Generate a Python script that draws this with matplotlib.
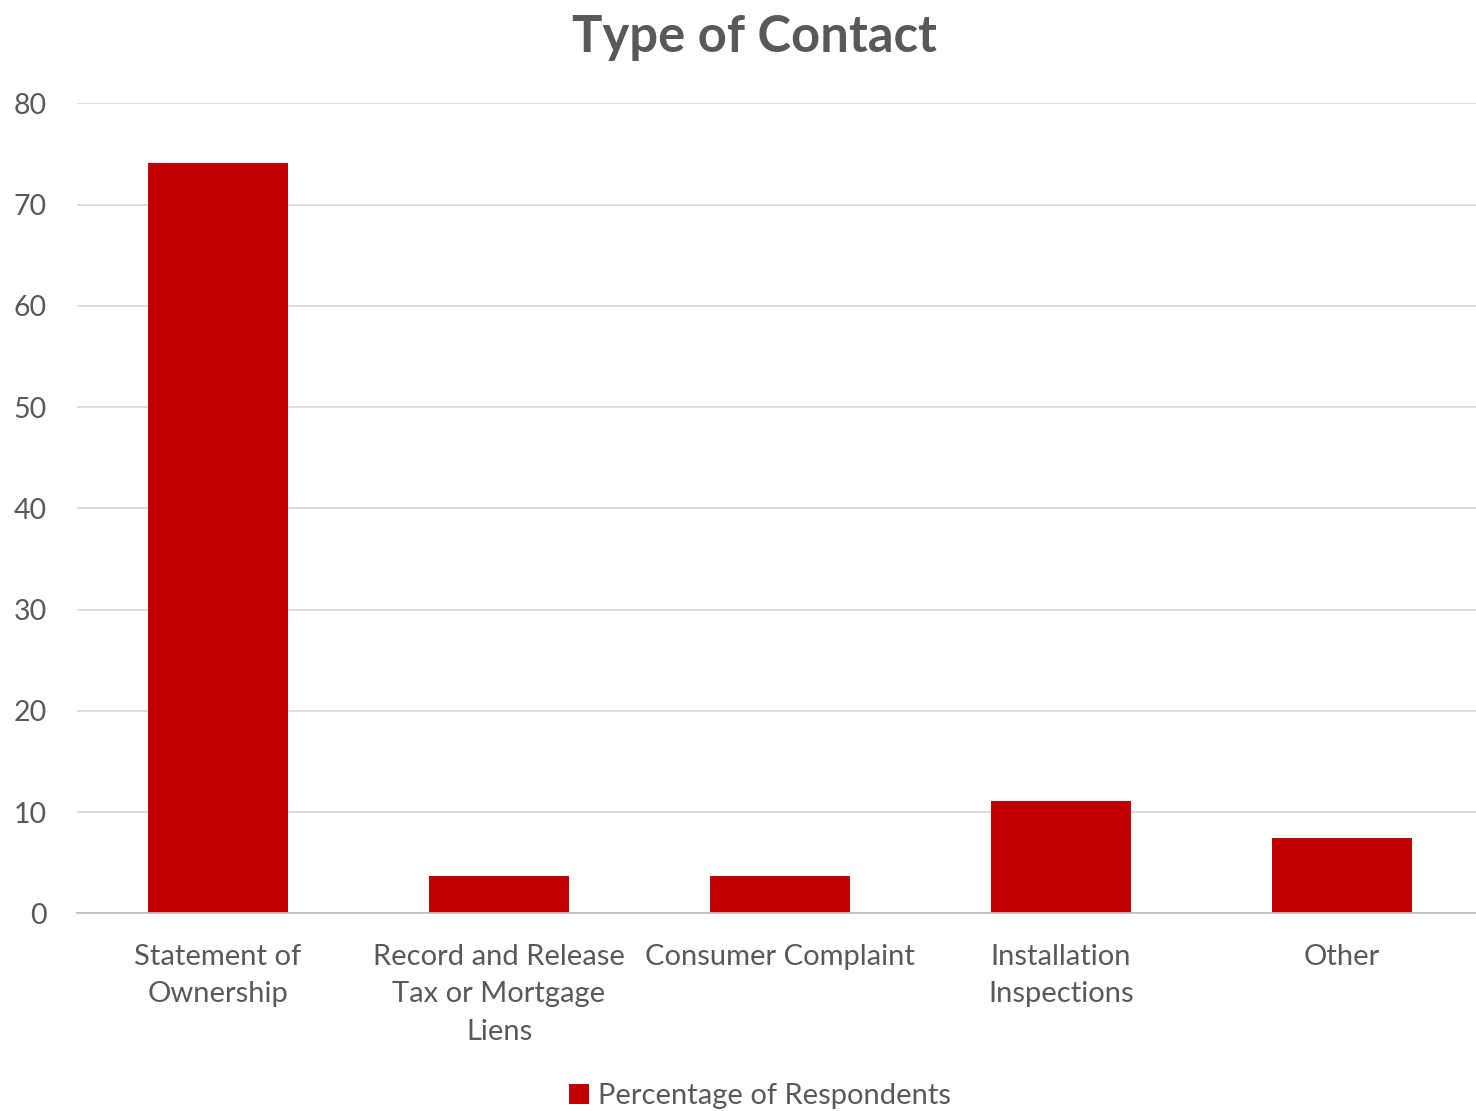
import matplotlib.pyplot as plt
import numpy as np

# share of respondents by type of contact
categories = ["Statement of\nOwnership", "Record and Release\nTax or Mortgage\nLiens",
              "Consumer Complaint", "Installation\nInspections", "Other"]
percentages = [74.1, 3.7, 3.7, 11.1, 7.4]
y_ticks = [0, 10, 20, 30, 40, 50, 60, 70, 80]

text_col = '#595959'
bar_col = '#C00000'

plt.rcParams['font.family'] = ['Lato', 'DejaVu Sans']

fig = plt.figure(figsize=(14.76, 11.11), dpi=100)
ax = fig.add_axes([0.0525, 0.178, 0.952, 0.729])

x = np.arange(len(categories))
ax.bar(x, percentages, width=0.5, color=bar_col, label='Percentage of Respondents', zorder=3)

ax.set_xlim(-0.5, len(categories) - 0.5)
ax.set_ylim(0, 80)
ax.set_yticks(y_ticks)
ax.set_yticklabels([str(t) for t in y_ticks], fontsize=20.5, color=text_col)
ax.set_xticks(x)
ax.set_xticklabels(categories, fontsize=21, color=text_col, linespacing=1.55)
ax.tick_params(axis='both', length=0)
ax.tick_params(axis='y', pad=22)
ax.tick_params(axis='x', pad=22)

ax.grid(axis='y', color='#D9D9D9', linewidth=1.3, zorder=0)
for side in ['top', 'right', 'left']:
    ax.spines[side].set_visible(False)
ax.spines['bottom'].set_color('#BFBFBF')
ax.spines['bottom'].set_linewidth(1.3)
ax.spines['bottom'].set_zorder(4)

fig.suptitle('Type of Contact', x=0.511, fontsize=36.5, fontweight='bold', color=text_col, y=0.987)

fig.legend(loc='lower center', bbox_to_anchor=(0.515, -0.022), frameon=False, fontsize=21,
           handlelength=0.7, handleheight=0.7, handletextpad=0.3, labelcolor=text_col)

plt.savefig('out.png', dpi=100)
